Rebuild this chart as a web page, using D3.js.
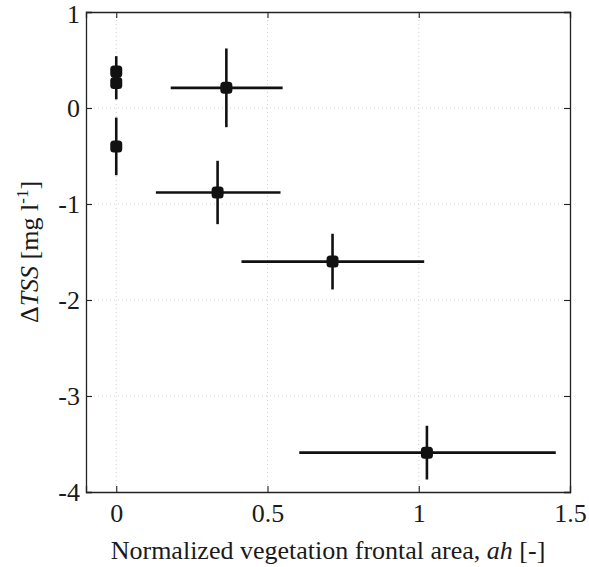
<!DOCTYPE html>
<html><head><meta charset="utf-8">
<script src="https://cdn.jsdelivr.net/npm/d3@7"></script>
<style>body{margin:0;background:#fff} text{font-family:"Liberation Serif","DejaVu Serif","Noto Serif",Times,serif;}</style>
</head><body>
<script>
const xVals   = [0, 0, 0, 0.364, 0.335, 0.715, 1.027];
const yVals   = [0.38, 0.26, -0.40, 0.21, -0.88, -1.60, -3.59];
const xErrLo  = [0, 0, 0, 0.184, 0.204, 0.301, 0.422];
const xErrHi  = [0, 0, 0, 0.186, 0.208, 0.303, 0.426];
const yErr    = [0.16, 0.17, 0.30, 0.41, 0.33, 0.29, 0.28];
const xTicks  = [0, 0.5, 1, 1.5];
const yTicks  = [-4, -3, -2, -1, 0, 1];

const W = 589, H = 567;
const m = {l: 86, r: 19, t: 12, b: 75};
const svg = d3.select("body").append("svg").attr("width", W).attr("height", H);
const x = d3.scaleLinear().domain([-0.1, 1.5]).range([m.l, W - m.r]);
const y = d3.scaleLinear().domain([-4, 1]).range([H - m.b, m.t]);
const FS = 26;

// grid
const g = svg.append("g");
g.selectAll(".gx").data(xTicks.filter(d => d < 1.5)).enter().append("line")
  .attr("x1", d => x(d)).attr("x2", d => x(d)).attr("y1", y(1)).attr("y2", y(-4))
  .attr("stroke", "#c8c8c8").attr("stroke-width", 0.8).attr("stroke-dasharray", "1,3");
g.selectAll(".gy").data(yTicks.filter(d => d > -4 && d < 1)).enter().append("line")
  .attr("y1", d => y(d)).attr("y2", d => y(d)).attr("x1", x(-0.1)).attr("x2", x(1.5))
  .attr("stroke", "#c8c8c8").attr("stroke-width", 0.8).attr("stroke-dasharray", "1,3");

// axes (ticks inward, box)
const tick = 6;
const axB = svg.append("g").attr("transform", `translate(0,${y(-4)})`)
  .call(d3.axisBottom(x).tickValues(xTicks).tickSize(-tick).tickPadding(12).tickFormat(d => String(d)));
const axT = svg.append("g").attr("transform", `translate(0,${y(1)})`)
  .call(d3.axisTop(x).tickValues(xTicks).tickSize(-tick).tickFormat(""));
const axL = svg.append("g").attr("transform", `translate(${x(-0.1)},0)`)
  .call(d3.axisLeft(y).tickValues(yTicks).tickSize(-tick).tickPadding(6).tickFormat(d => String(d)));
const axR = svg.append("g").attr("transform", `translate(${x(1.5)},0)`)
  .call(d3.axisRight(y).tickValues(yTicks).tickSize(-tick).tickFormat(""));
[axB, axT, axL, axR].forEach(a => {
  a.attr("font-family", null).attr("font-size", null);
  a.selectAll("path").attr("stroke", "#222").attr("stroke-width", 1.3);
  a.selectAll("line").attr("stroke", "#222").attr("stroke-width", 1.1);
  a.selectAll("text").style("font-size", FS + "px").attr("fill", "#1a1a1a");
});
axL.selectAll("text").filter(d => d === 1).attr("dy", "0.42em");

// error bars
const pts = xVals.map((d, i) => ({x: d, y: yVals[i], xl: d - xErrLo[i], xh: d + xErrHi[i], ey: yErr[i]}));
const eb = svg.append("g").attr("stroke", "#111").attr("stroke-width", 2.6);
eb.selectAll(".ev").data(pts).enter().append("line")
  .attr("x1", d => x(d.x)).attr("x2", d => x(d.x))
  .attr("y1", d => y(d.y + d.ey)).attr("y2", d => y(d.y - d.ey));
eb.selectAll(".eh").data(pts.filter(d => d.xh > d.xl)).enter().append("line")
  .attr("x1", d => x(d.xl)).attr("x2", d => x(d.xh))
  .attr("y1", d => y(d.y)).attr("y2", d => y(d.y));
svg.append("g").selectAll("rect").data(pts).enter().append("rect")
  .attr("x", d => x(d.x) - 6).attr("y", d => y(d.y) - 6)
  .attr("width", 12).attr("height", 12).attr("rx", 3.5)
  .attr("fill", "#111");

// labels
const xl = svg.append("text").attr("x", (x(-0.1) + x(1.5)) / 2).attr("y", 559)
  .attr("text-anchor", "middle").style("font-size", FS + "px").attr("fill", "#1a1a1a");
xl.append("tspan").text("Normalized vegetation frontal area, ");
xl.append("tspan").style("font-style", "italic").text("ah");
xl.append("tspan").text(" [-]");

const yl = svg.append("text").attr("transform", `translate(38,${(y(1) + y(-4)) / 2}) rotate(-90)`)
  .attr("text-anchor", "middle").style("font-size", FS + "px").attr("fill", "#1a1a1a");
yl.append("tspan").text("Δ");
yl.append("tspan").style("font-style", "italic").text("TSS");
yl.append("tspan").text(" [mg l");
yl.append("tspan").style("font-size", "17px").attr("dy", -10).text("-1");
yl.append("tspan").attr("dy", 10).text("]");
</script>
</body></html>
